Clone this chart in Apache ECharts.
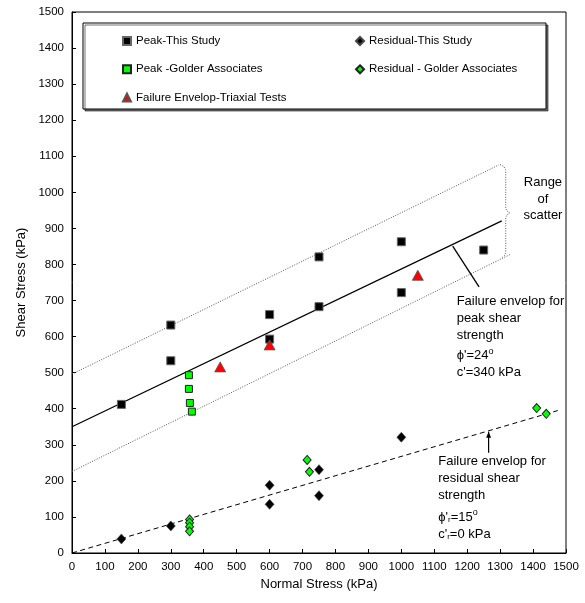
<!DOCTYPE html>
<html><head><meta charset="utf-8">
<script src="https://cdn.jsdelivr.net/npm/echarts@6/dist/echarts.min.js"></script>
</head>
<body style="margin:0;background:#fff">
<div id="c" style="width:585px;height:603px"></div>
<script>
// ---- data ----
const peakThisStudy = [[150,412],[300,632],[300,533],[600,661],[600,593],[750,821],[750,683],[1000,863],[1000,722],[1250,840]];
const peakGolder = [[355,493],[355,455],[358,416],[364,392]];
const triaxial = [[450,516],[600,577],[1050,770]];
const residualThisStudy = [[150,39],[300,75],[600,188],[600,135],[750,231],[750,159],[1000,321]];
const residualGolder = [[357,93],[357,84],[357,73],[357,60],[714,258],[721,225],[1411,402],[1440,386]];
const peakEnvelope = [[0,350],[1305,921]];
const scatterUpper = [[0,496],[1296,1076]];
const scatterLower = [[0,226],[1333,829]];
const residualEnvelope = [[0,0],[1475,395]];
const rangeBrace = [[1300,1077],[1311,1072],[1317,1062],[1317,956],[1321,948],[1330,943],[1321,938],[1317,930],[1317,834],[1314,825],[1307,820]];
const peakPointer = [[1156,851],[1236,738]];
const residualPointer = [[1265,278],[1265,336]];
const xTicks = [0,100,200,300,400,500,600,700,800,900,1000,1100,1200,1300,1400,1500];
const yTicks = [0,100,200,300,400,500,600,700,800,900,1000,1100,1200,1300,1400,1500];

const FONT = '"Liberation Sans", Arial, sans-serif';
const chart = echarts.init(document.getElementById('c'));

function lineSeries(data, style){
  return {type:'line', data:data, symbol:'none', silent:true, lineStyle:style, z:2};
}

chart.setOption({
  animation:false,
  textStyle:{fontFamily:FONT},
  grid:{left:72, right:19, top:12, bottom:50, show:true, borderColor:'#000', borderWidth:1},
  xAxis:{type:'value', min:xTicks[0], max:xTicks[xTicks.length-1], interval:100,
    name:'Normal Stress (kPa)', nameLocation:'middle', nameGap:22,
    nameTextStyle:{fontSize:13, color:'#000', fontFamily:FONT},
    axisLine:{lineStyle:{color:'#000'}}, axisTick:{inside:true, length:4, lineStyle:{color:'#000'}},
    axisLabel:{color:'#000', fontSize:11.5, margin:8, fontFamily:FONT, formatter:v=>String(v)},
    splitLine:{show:false}},
  yAxis:{type:'value', min:yTicks[0], max:yTicks[yTicks.length-1], interval:100,
    name:'Shear Stress (kPa)', nameLocation:'middle', nameGap:44, nameRotate:90,
    nameTextStyle:{fontSize:13, color:'#000', fontFamily:FONT},
    axisLine:{lineStyle:{color:'#000'}}, axisTick:{inside:true, length:4, lineStyle:{color:'#000'}},
    axisLabel:{color:'#000', fontSize:11.5, margin:8, fontFamily:FONT, formatter:v=>String(v)},
    splitLine:{show:false}},
  legend:[
    {data:['Peak-This Study','Peak -Golder Associates','Failure Envelop-Triaxial Tests'],
     orient:'vertical', left:117, top:29, itemWidth:8, itemHeight:8, itemGap:14.3, itemTextGap:5,
     selectedMode:false, textStyle:{fontSize:11.5, color:'#000', lineHeight:14, fontFamily:FONT}},
    {data:['Residual-This Study','Residual - Golder Associates'],
     orient:'vertical', left:350, top:29, itemWidth:8, itemHeight:8, itemGap:14.3, itemTextGap:5,
     selectedMode:false, textStyle:{fontSize:11.5, color:'#000', lineHeight:14, fontFamily:FONT}}
  ],
  series:[
    lineSeries(scatterUpper,{color:'#555', width:1, type:[1,1.5]}),
    lineSeries(scatterLower,{color:'#555', width:1, type:[1,1.5]}),
    lineSeries(rangeBrace,{color:'#555', width:1, type:[1,1.5]}),
    lineSeries(peakEnvelope,{color:'#000', width:1.3}),
    lineSeries(residualEnvelope,{color:'#000', width:1, type:[5,3.5]}),
    lineSeries(peakPointer,{color:'#000', width:1.3}),
    lineSeries(residualPointer,{color:'#000', width:1.2}),
    {type:'scatter', data:[residualPointer[1]], silent:true, symbol:'triangle', symbolSize:[5,6], symbolOffset:[0,3],
     itemStyle:{color:'#000', opacity:1}, z:3},
    {name:'Peak-This Study', type:'scatter', data:peakThisStudy, symbol:'rect', symbolSize:8,
     itemStyle:{color:'#000', borderColor:'#666', borderWidth:1, opacity:1}, z:5},
    {name:'Peak -Golder Associates', type:'scatter', data:peakGolder, symbol:'rect', symbolSize:7,
     itemStyle:{color:'#00ff00', borderColor:'#222', borderWidth:1, opacity:1}, z:5},
    {name:'Failure Envelop-Triaxial Tests', type:'scatter', data:triaxial, symbol:'triangle', symbolSize:[11,10],
     itemStyle:{color:'#ff0000', borderColor:'#555', borderWidth:0.8, opacity:1}, z:6},
    {name:'Residual-This Study', type:'scatter', data:residualThisStudy, symbol:'diamond', symbolSize:[9,10],
     itemStyle:{color:'#000', borderColor:'#444', borderWidth:0.6, opacity:1}, z:5},
    {name:'Residual - Golder Associates', type:'scatter', data:residualGolder, symbol:'diamond', symbolSize:[8,9],
     itemStyle:{color:'#00ff00', borderColor:'#222', borderWidth:1, opacity:1}, z:5}
  ]
});

// annotations (text placed at data coordinates)
function P(x,y){ return chart.convertToPixel({gridIndex:0},[x,y]); }
const tStyle = {fontSize:13, fill:'#000', fontFamily:FONT};
const els = [];
els.push({type:'rect', shape:{x:83, y:23, width:463, height:86}, style:{fill:'#fff', stroke:'#000', lineWidth:1, shadowColor:'rgba(0,0,0,0.55)', shadowOffsetX:2, shadowOffsetY:2, shadowBlur:0}, z:-1, silent:true});

function lines(anchor, arr, align){
  const p = P(anchor[0], anchor[1]);
  let y = p[1];
  arr.forEach(function(item){
    els.push({type:'text', x:p[0], y:y, style:Object.assign({}, tStyle, {text:item.t, rich:item.rich, align:align, verticalAlign:'middle'}), z:10, silent:true});
    y += item.gap;
  });
}
const supRich = {
  a:{fontSize:13, fontFamily:FONT, fill:'#000'},
  sup:{fontSize:9, fontFamily:FONT, fill:'#000', padding:[0,0,9,0]},
  sub:{fontSize:8, fontFamily:FONT, fill:'#000', padding:[6,0,0,0]}
};
lines([1430,1028], [{t:'Range',gap:17},{t:'of',gap:16},{t:'scatter',gap:0}], 'center');
lines([1168,697], [
  {t:'Failure envelop for',gap:17.3},
  {t:'peak shear',gap:16.7},
  {t:'strength',gap:20.3},
  {t:'{a|ϕ\'=24}{sup|o}', rich:supRich, gap:16.7},
  {t:'c\'=340 kPa',gap:0}
], 'left');
lines([1112,255], [
  {t:'Failure envelop for',gap:17.3},
  {t:'residual shear',gap:17.4},
  {t:'strength',gap:21.3},
  {t:'{a|ϕ\'}{sub|r}{a|=15}{sup|o}', rich:supRich, gap:17},
  {t:'{a|c\'}{sub|r}{a|=0 kPa}', rich:supRich, gap:0}
], 'left');
chart.setOption({graphic:els});
</script>
</body></html>
